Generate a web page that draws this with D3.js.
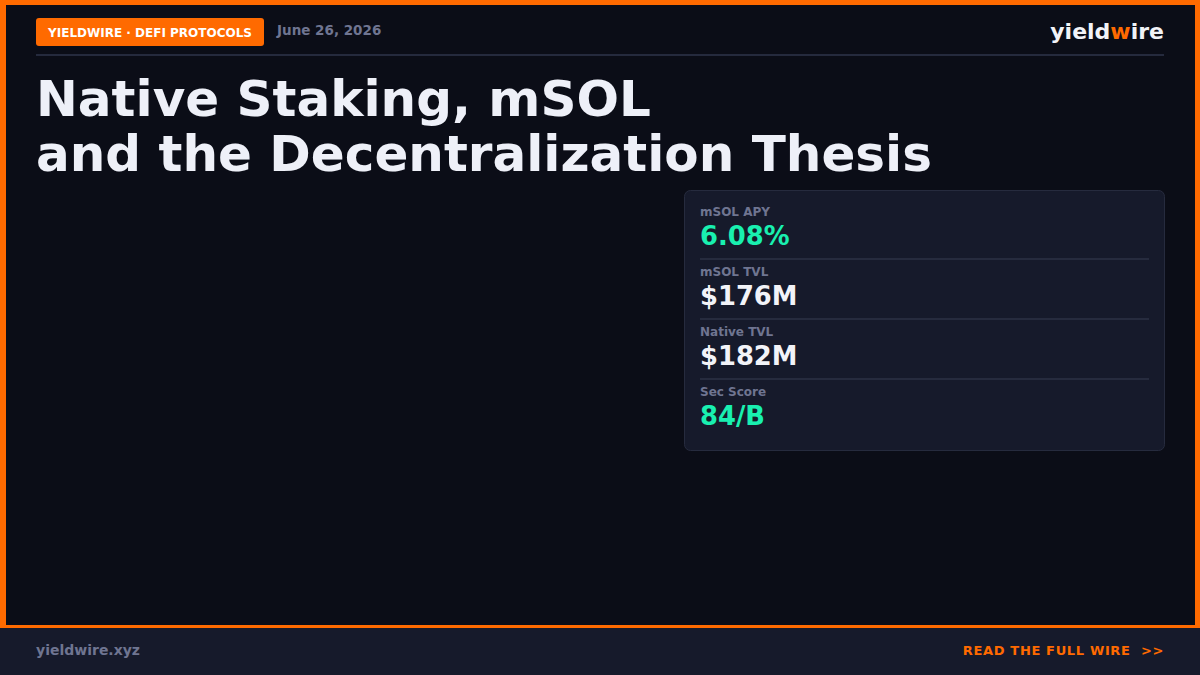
<!DOCTYPE html>
<html><head><meta charset="utf-8">
<script src="https://cdn.jsdelivr.net/npm/d3@7"></script>
<style>body{margin:0;background:#0b0d17}svg{display:block}</style>
</head><body>
<script>
const statLabels = ["mSOL APY", "mSOL TVL", "Native TVL", "Sec Score"];
const statValues = ["6.08%", "$176M", "$182M", "84/B"];
const statAccent = [true, false, false, true];
const titleLines = ["Native Staking, mSOL", "and the Decentralization Thesis"];

const W = 1200, H = 675, F = "DejaVu Sans, sans-serif";
const svg = d3.select("body").append("svg").attr("width", W).attr("height", H);
svg.append("rect").attr("width", W).attr("height", H).attr("fill", "#0b0d17");
svg.append("rect").attr("x", 0).attr("y", 0).attr("width", W).attr("height", 5).attr("fill", "#ff6a00");
svg.append("rect").attr("x", 0).attr("y", 0).attr("width", 6).attr("height", 626).attr("fill", "#ff6a00");
svg.append("rect").attr("x", W - 5).attr("y", 0).attr("width", 5).attr("height", 626).attr("fill", "#ff6a00");
svg.append("rect").attr("x", 0).attr("y", 625).attr("width", W).attr("height", 50).attr("fill", "#161a2b");
svg.append("rect").attr("x", 0).attr("y", 625).attr("width", W).attr("height", 3).attr("fill", "#ff6a00");
svg.append("text").attr("x", 36).attr("y", 655).attr("font-family", F).attr("font-weight", "bold")
  .attr("font-size", 14).attr("fill", "#6f7591").text("yieldwire.xyz");
svg.append("text").attr("x", 1164).attr("y", 655).attr("text-anchor", "end").attr("font-family", F)
  .attr("font-weight", "bold").attr("font-size", 13).attr("fill", "#ff6a00").attr("letter-spacing", 0.65)
  .attr("xml:space", "preserve").text("READ THE FULL WIRE  >>");
svg.append("rect").attr("x", 36).attr("y", 18).attr("width", 228).attr("height", 28).attr("rx", 3).attr("fill", "#ff6a00");
svg.append("text").attr("x", 150).attr("y", 37).attr("text-anchor", "middle").attr("font-family", F)
  .attr("font-weight", "bold").attr("font-size", 12).attr("fill", "#fff").text("YIELDWIRE · DEFI PROTOCOLS");
svg.append("text").attr("x", 277).attr("y", 35).attr("font-family", F).attr("font-weight", "bold")
  .attr("font-size", 13.5).attr("fill", "#6f7591").text("June 26, 2026");
const logo = svg.append("text").attr("x", 1164).attr("y", 39).attr("text-anchor", "end").attr("font-family", F)
  .attr("font-weight", "bold").attr("font-size", 22).attr("fill", "#f2f3f8");
logo.append("tspan").text("yield");
logo.append("tspan").attr("fill", "#ff6a00").text("w");
logo.append("tspan").text("ire");
svg.append("rect").attr("x", 36).attr("y", 54).attr("width", 1128).attr("height", 2).attr("fill", "#252a3d");
svg.selectAll(".t").data(titleLines).join("text").attr("x", 36).attr("y", (d, i) => 116 + i * 55)
  .attr("font-family", F).attr("font-weight", "bold").attr("font-size", 50).attr("fill", "#eef0f8").text(d => d);
svg.append("rect").attr("x", 684.5).attr("y", 190.5).attr("width", 480).attr("height", 260).attr("rx", 6)
  .attr("fill", "#161a2b").attr("stroke", "#262b3e");
const y = d3.scaleBand().domain(statLabels).range([200, 440]);
const g = svg.selectAll(".s").data(statLabels).join("g").attr("transform", d => `translate(700,${y(d)})`);
g.append("text").attr("y", 16).attr("font-family", F).attr("font-weight", "bold").attr("font-size", 12)
  .attr("fill", "#6f7591").text(d => d);
g.append("text").attr("y", 45).attr("font-family", F).attr("font-weight", "bold").attr("font-size", 25.8)
  .attr("fill", (d, i) => statAccent[i] ? "#19f0b0" : "#f2f3f8").text((d, i) => statValues[i]);
g.filter((d, i) => i < statLabels.length - 1).append("rect").attr("x", 0).attr("y", 58).attr("width", 449)
  .attr("height", 2).attr("fill", "#262b3e");
</script>
</body></html>
